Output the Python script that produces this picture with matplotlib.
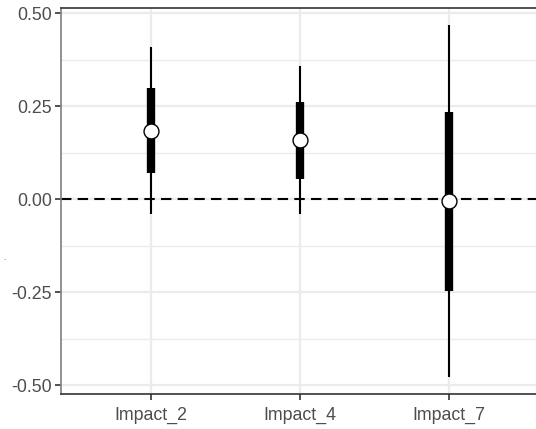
import numpy as np
import matplotlib
matplotlib.use("Agg")
import matplotlib.pyplot as plt
from matplotlib.ticker import MultipleLocator

# estimates
terms = ["Impact_2", "Impact_4", "Impact_7"]
median = [0.184, 0.158, -0.005]
inner_lo = [0.069, 0.055, -0.246]
inner_hi = [0.298, 0.260, 0.235]
outer_lo = [-0.040, -0.041, -0.479]
outer_hi = [0.408, 0.358, 0.468]

yticks = [-0.50, -0.25, 0.00, 0.25, 0.50]
ytick_labels = ["-0.50", "-0.25", "0.00", "0.25", "0.50"]

plt.rcParams["font.family"] = ["Liberation Sans", "DejaVu Sans"]

fig = plt.figure(figsize=(5.36, 4.29), dpi=100)
ax = fig.add_axes([61 / 536, 1 - 394 / 429, 478 / 536, 386 / 429])

x = np.arange(1, len(terms) + 1)

# grid
ax.set_axisbelow(True)
ax.yaxis.set_minor_locator(MultipleLocator(0.125))
ax.grid(which="major", color="#EBEBEB", linewidth=1.6)
ax.grid(which="minor", axis="y", color="#EBEBEB", linewidth=1.0)

ax.axhline(0, color="black", linestyle=(0, (5, 3)), linewidth=1.5, zorder=2)

ax.vlines(x, outer_lo, outer_hi, color="black", linewidth=1.5, zorder=3)
ax.vlines(x, inner_lo, inner_hi, color="black", linewidth=6, zorder=3)
ax.scatter(x, median, s=115, facecolor="white", edgecolor="black",
           linewidth=1.0, zorder=4)

ax.set_xlim(0.4, 3.6)
ax.set_ylim(-0.524, 0.5135)
ax.set_xticks(x)
ax.set_xticklabels(terms)
ax.set_yticks(yticks)
ax.set_yticklabels(ytick_labels)
ax.tick_params(axis="both", which="major", labelsize=12.8, labelcolor="#4D4D4D",
               color="#333333", length=4, width=1.2, pad=2.5)
ax.tick_params(axis="x", pad=5.5)
ax.tick_params(axis="y", which="minor", length=0)

for side in ["top", "bottom"]:
    ax.spines[side].set_color("#333333")
    ax.spines[side].set_linewidth(1.2)
ax.spines["left"].set_color("#7F7F7F")
ax.spines["left"].set_linewidth(1.2)
ax.spines["right"].set_visible(False)

fig.text(3 / 536, 1 - 259 / 429, ".", fontsize=6, color="#4D4D4D",
         ha="left", va="center")

fig.savefig("out.png", dpi=100)
